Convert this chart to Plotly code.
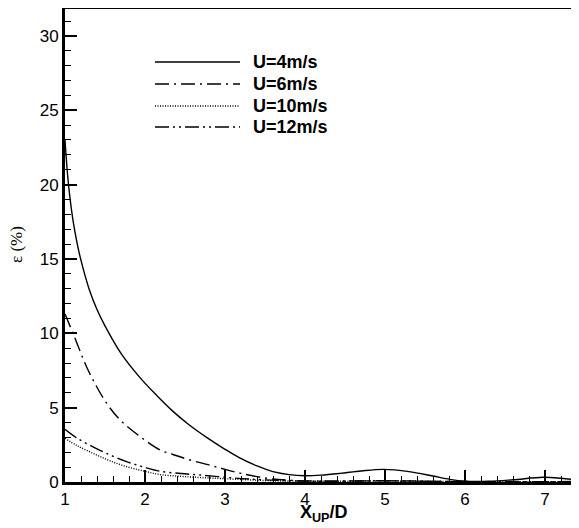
import plotly.graph_objects as go

# ---- data ----
x_u4 = [1.0, 1.03, 1.06, 1.1, 1.15, 1.2, 1.3, 1.4, 1.5, 1.7, 1.94, 2.15, 2.35, 2.55, 2.77, 3.0, 3.19,
        3.4, 3.6, 3.8, 4.0, 4.2, 4.44, 4.7, 4.98, 5.3, 5.6, 5.81, 6.0, 6.3, 6.6, 6.98, 7.2, 7.42]
y_u4 = [23.0, 20.8, 19.2, 17.6, 16.1, 14.9, 13.0, 11.6, 10.5, 8.65, 7.0, 5.8, 4.75, 3.85, 3.0, 2.2, 1.6,
        1.08, 0.7, 0.5, 0.42, 0.46, 0.58, 0.74, 0.85, 0.7, 0.4, 0.18, 0.06, 0.05, 0.15, 0.32, 0.25, 0.12]

x_u6 = [1.0, 1.1, 1.3, 1.52, 1.69, 1.94, 2.19, 2.35, 2.55, 2.8, 3.0, 3.2, 3.52, 3.8, 4.2, 5.0, 6.0, 7.42]
y_u6 = [11.3, 10.0, 7.4, 5.3, 4.17, 3.05, 2.15, 1.85, 1.5, 1.15, 0.85, 0.58, 0.25, 0.12, 0.06, 0.08, 0.03, 0.03]

x_u10 = [1.0, 1.15, 1.35, 1.55, 1.77, 2.0, 2.19, 2.45, 2.69, 3.0, 3.5, 4.0, 5.0, 6.0, 7.42]
y_u10 = [2.94, 2.45, 1.93, 1.45, 1.03, 0.72, 0.5, 0.38, 0.3, 0.22, 0.1, 0.05, 0.06, 0.02, 0.02]

x_u12 = [1.0, 1.15, 1.35, 1.55, 1.77, 2.0, 2.19, 2.45, 2.69, 3.0, 3.3, 4.0, 5.0, 6.0, 7.42]
y_u12 = [3.54, 2.95, 2.37, 1.85, 1.37, 0.98, 0.72, 0.57, 0.47, 0.32, 0.2, 0.06, 0.08, 0.02, 0.02]

labels = ["U=4m/s", "U=6m/s", "U=10m/s", "U=12m/s"]
dashes = ["solid", "14px,5px,2px,5px", "1px,1.5px", "14px,4px,2px,4px,2px,4px"]

series = [(x_u4, y_u4), (x_u6, y_u6), (x_u10, y_u10), (x_u12, y_u12)]

fig = go.Figure()
for (xs, ys), name, d in zip(series, labels, dashes):
    fig.add_trace(go.Scatter(x=xs, y=ys, mode="lines", name=name,
                             line=dict(color="black", width=1.4, dash=d, shape="spline", smoothing=1.0),
                             showlegend=False))

OFF = 8  # page body margin
W, H = 579 - OFF, 528 - OFF
L, R, T, B = 65 - OFF, 0, 1, 46
pw, ph = W - L - R, H - T - B

def px_to_paper(px, py):
    fx, fy = px - OFF, py - OFF
    return (fx - L) / pw, (H - B - fy) / ph

# manual legend (long line samples as in reference)
rows_y = [62, 84, 106, 127]
for yy, name, d in zip(rows_y, labels, dashes):
    x0, yp = px_to_paper(155, yy)
    x1, _ = px_to_paper(240, yy)
    fig.add_shape(type="line", xref="paper", yref="paper", x0=x0, x1=x1, y0=yp, y1=yp,
                  line=dict(color="black", width=1.4, dash=d))
    xt, _ = px_to_paper(251, yy)
    fig.add_annotation(xref="paper", yref="paper", x=xt, y=yp, text="<b>%s</b>" % name,
                       showarrow=False, xanchor="left", yanchor="middle",
                       font=dict(family="Liberation Sans, Arial", size=18, color="black"))

# axis titles
xt, yt = px_to_paper(324, 513)
fig.add_annotation(xref="paper", yref="paper", x=xt, y=yt, text="<b>X<sub>UP</sub>/D</b>",
                   showarrow=False, xanchor="center", yanchor="middle",
                   font=dict(family="Liberation Sans, Arial", size=18, color="black"))
xt, yt = px_to_paper(16, 245)
fig.add_annotation(xref="paper", yref="paper", x=xt, y=yt, text="ε (%)", textangle=-90,
                   showarrow=False, xanchor="center", yanchor="middle", borderpad=0,
                   font=dict(family="Liberation Serif, Times New Roman", size=17, color="black"))

fig.update_layout(
    width=W, height=H,
    margin=dict(l=L, r=R, t=T, b=B, pad=0, autoexpand=False),
    paper_bgcolor="white", plot_bgcolor="white",
    font=dict(family="Liberation Sans, Arial", size=17, color="black"),
)
fig.update_xaxes(
    range=[1, 1 + pw / 80.0], showgrid=False, zeroline=False, automargin=False,
    showline=True, linewidth=3, linecolor="black", mirror=True,
    ticks="inside", ticklen=12, tickwidth=2, tickcolor="black",
    tick0=1, dtick=1,
    minor=dict(ticks="inside", ticklen=6, tickwidth=1, tickcolor="black", dtick=0.2, showgrid=False),
    tickfont=dict(size=17),
)
fig.update_yaxes(
    range=[0, ph / 14.87], showgrid=False, zeroline=False, automargin=False,
    showline=True, linewidth=3, linecolor="black", mirror=False,
    ticks="inside", ticklen=12, tickwidth=2, tickcolor="black",
    tick0=0, dtick=5,
    minor=dict(ticks="inside", ticklen=6, tickwidth=1, tickcolor="black", dtick=1, showgrid=False),
    tickfont=dict(size=17),
)

fig.write_html("out.html")
